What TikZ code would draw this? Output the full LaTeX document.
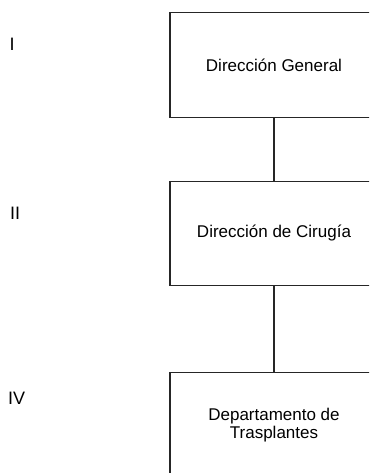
\documentclass[tikz,border=0pt]{standalone}
\usepackage{fontspec}
\setmainfont{Liberation Sans}
\begin{document}
\begin{tikzpicture}[x=1pt,y=-1pt,
  orgbox/.style={draw=black!85,line width=1.2pt,rectangle,minimum width=208pt,minimum height=104.5pt,inner sep=0pt,align=center,font=\fontsize{17}{17.5}\selectfont},
  lvl/.style={font=\fontsize{18}{18}\selectfont,anchor=west,inner sep=0pt},
  conn/.style={draw=black!85,line width=1.2pt}]
\useasboundingbox (0,0) rectangle (369,473);
\clip (0,0) rectangle (369,473);
\fill[white] (0,0) rectangle (369,473);
\node[orgbox] (b1) at (274,64.9) {Dirección General};
\node[orgbox] (b2) at (274,233.4) {Dirección de Cirugía};
\node[orgbox] (b3) at (274,424.9) {Departamento de\\Trasplantes};
\draw[conn] (b1.south) -- (b2.north);
\draw[conn] (b2.south) -- (b3.north);
\node[lvl] (l1) at (9.5,44.5) {I};
\node[lvl] (l2) at (10,213.5) {II};
\node[lvl] (l4) at (8,398.5) {IV};
\end{tikzpicture}
\end{document}
